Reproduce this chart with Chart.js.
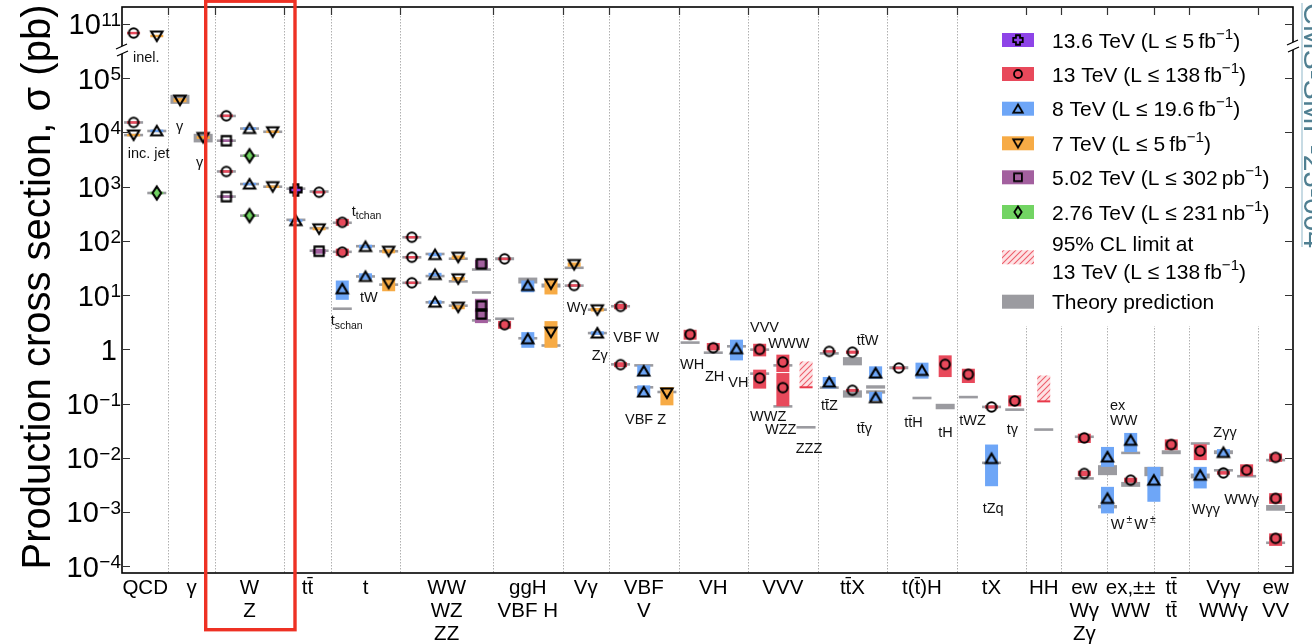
<!DOCTYPE html>
<html>
<head>
<meta charset="utf-8">
<script src="https://cdn.jsdelivr.net/npm/chart.js@4.4.1/dist/chart.umd.min.js"></script>
<style>
  html, body { margin: 0; padding: 0; background: #fff; }
  canvas { display: block; }
</style>
</head>
<body>
<canvas id="c" width="1312" height="644"></canvas>
<script>
const FONT = '"Liberation Sans", Arial, Helvetica, sans-serif';

// ---- process categories along the x axis (label lines, width in columns) ----
const categories = [
  ['QCD'], ['γ'], ['W', 'Z'], ['tt\u0304'], ['t'], ['WW', 'WZ', 'ZZ'], ['ggH', 'VBF H'],
  ['Vγ'], ['VBF', 'V'], ['VH'], ['VVV'], ['tt\u0304X'], ['t(t\u0304)H'], ['tX'], ['HH'],
  ['ew', 'Wγ', 'Zγ'], ['ex,±±', 'WW'], ['tt\u0304', 'tt\u0304'], ['Vγγ', 'WWγ'], ['ew', 'VV']
];
const categoryWidths = [2, 2, 3, 2, 3, 4, 3, 2, 3, 3, 3, 3, 3, 3, 1.5, 2, 2, 1.5, 3, 1.5];

// ---- y axis: decades, with a break that maps 10^11 onto the 10^6 slot ----
const yTickValues = [1e11, 1e5, 1e4, 1e3, 1e2, 1e1, 1, 1e-1, 1e-2, 1e-3, 1e-4];
const yTickLabels = [['10', '11'], ['10', '5'], ['10', '4'], ['10', '3'], ['10', '2'], ['10', '1'],
                     ['1', ''], ['10', '−1'], ['10', '−2'], ['10', '−3'], ['10', '−4']];

// ---- measurements: [column, sigma (pb), uncertainty low, uncertainty high] ----
const meas136 = [
  [7.5, 870, 840, 900]
];
const meas13 = [
  [0.5, 6.8e10, 6.6e10, 7.0e10], [0.5, 1.53e4, 1.48e4, 1.58e4],
  [4.5, 2.03e4, 1.97e4, 2.09e4], [4.5, 1.91e3, 1.85e3, 1.97e3],
  [8.5, 790, 760, 820],
  [9.5, 220, 190, 255], [9.5, 62, 53, 72],
  [12.5, 117, 112, 122], [12.5, 50, 48, 52], [12.5, 16.9, 16.2, 17.6],
  [16.5, 46.7, 44.5, 49], [16.5, 2.85, 2.4, 3.35],
  [19.5, 15.1, 14.5, 15.7],
  [21.5, 6.2, 5.5, 6.9], [21.5, 0.523, 0.47, 0.58],
  [24.5, 1.89, 1.51, 2.30], [25.5, 1.07, 0.96, 1.31],
  [27.5, 1.0, 0.743, 1.27], [27.5, 0.296, 0.189, 0.423],
  [28.5, 0.584, 0.382, 0.80], [28.5, 0.197, 0.0893, 0.366],
  [30.5, 0.919, 0.88, 0.96], [31.5, 0.89, 0.83, 0.95], [31.5, 0.176, 0.165, 0.187],
  [33.5, 0.453, 0.43, 0.48], [35.5, 0.53, 0.309, 0.776],
  [36.5, 0.347, 0.24, 0.44], [37.5, 0.0867, 0.081, 0.093], [38.5, 0.112, 0.089, 0.142],
  [41.5, 0.0233, 0.0188, 0.0279], [41.5, 0.00515, 0.0046, 0.0058],
  [43.5, 0.00388, 0.0035, 0.0043],
  [45.25, 0.0176, 0.0139, 0.0219],
  [46.5, 0.0134, 0.00909, 0.0178], [47.5, 0.00528, 0.0049, 0.0057], [48.5, 0.00593, 0.00459, 0.0076],
  [49.75, 0.0102, 0.00846, 0.012], [49.75, 0.00179, 0.00142, 0.00223], [49.75, 0.000328, 0.000238, 0.000405]
];
const meas8 = [
  [1.5, 1.07e4, 1.04e4, 1.1e4],
  [5.5, 1.18e4, 1.14e4, 1.22e4], [5.5, 1.12e3, 1.08e3, 1.16e3],
  [7.5, 237, 228, 246],
  [9.5, 13.1, 8.2, 18.6], [10.5, 78.7, 73, 85], [10.5, 22.1, 19.3, 25.3],
  [13.5, 56, 52, 60], [13.5, 24, 22.3, 25.8], [13.5, 7.43, 6.9, 8.0],
  [17.5, 15.1, 11.3, 18.6], [17.5, 1.57, 1.07, 2.08],
  [20.5, 2.0, 1.85, 2.15],
  [22.5, 0.399, 0.318, 0.508], [22.5, 0.164, 0.132, 0.217],
  [26.5, 1.03, 0.627, 1.51],
  [30.5, 0.25, 0.19, 0.31], [32.5, 0.366, 0.289, 0.487], [32.5, 0.129, 0.112, 0.164],
  [34.5, 0.41, 0.289, 0.569],
  [37.5, 0.00973, 0.003, 0.0176],
  [42.5, 0.0104, 0.00684, 0.0159], [42.5, 0.00179, 0.000946, 0.00292],
  [43.5, 0.0211, 0.0128, 0.0288], [44.5, 0.00388, 0.00155, 0.00682],
  [46.5, 0.0048, 0.00273, 0.00682], [47.5, 0.01256, 0.0105, 0.0145]
];
const meas7 = [
  [1.5, 6.0e10, 5.8e10, 6.2e10], [0.5, 8.95e3, 8.6e3, 9.3e3],
  [2.5, 3.94e4, 3.6e4, 4.3e4], [3.5, 8.09e3, 7.6e3, 8.6e3],
  [6.5, 1.03e4, 9.9e3, 1.07e4], [6.5, 1.0e3, 960, 1040],
  [8.5, 167, 157, 178],
  [11.5, 64.5, 59, 70], [11.5, 16.6, 11.8, 20.3],
  [14.5, 50, 46, 54], [14.5, 20, 18.5, 21.6], [14.5, 6.0, 5.5, 6.5],
  [18.5, 16.2, 10.3, 20], [18.5, 2.08, 1.07, 3.32],
  [19.5, 36.7, 33.5, 40], [20.5, 5.38, 5.0, 5.8],
  [23.5, 0.157, 0.093, 0.202]
];
const meas502 = [
  [4.5, 7.03e3, 6.8e3, 7.3e3], [4.5, 655, 630, 680],
  [8.5, 64.5, 58, 71],
  [15.5, 37.8, 31, 45], [15.5, 6.32, 4.8, 8.57], [15.5, 4.5, 3.05, 5.45]
];
const meas276 = [
  [1.5, 766, 740, 790], [5.5, 3.72e3, 3.6e3, 3.85e3], [5.5, 293, 283, 303]
];

// ---- theory predictions: [column, low, high] ----
const theory136 = [[7.5, 890, 950]];
const theory13 = [
  [0.5, 1.46e4, 1.6e4], [4.5, 1.95e4, 2.08e4], [4.5, 1.85e3, 1.97e3], [8.5, 780, 850],
  [9.5, 205, 228], [9.5, 60, 66], [12.5, 112, 122], [12.5, 48, 52], [12.5, 16.2, 17.6],
  [16.5, 44, 50], [16.5, 3.55, 3.8], [19.5, 14.4, 15.6], [21.5, 6.0, 6.5], [21.5, 0.51, 0.55],
  [24.5, 1.29, 1.38], [25.5, 0.84, 0.9], [27.5, 0.96, 1.02], [27.5, 0.345, 0.37],
  [28.5, 0.49, 0.525], [28.5, 0.086, 0.092], [29.5, 0.0355, 0.0377],
  [30.5, 0.80, 0.89], [31.5, 0.508, 0.72], [31.5, 0.129, 0.176],
  [33.5, 0.43, 0.49], [35.5, 0.0787, 0.0993], [36.5, 0.127, 0.137], [37.5, 0.084, 0.09],
  [38.5, 0.075, 0.08], [39.75, 0.032, 0.0345],
  [41.5, 0.0235, 0.0255], [41.5, 0.00405, 0.0043], [43.5, 0.00292, 0.0036],
  [45.25, 0.01167, 0.0138], [46.5, 0.0178, 0.019], [47.5, 0.0057, 0.0061], [48.5, 0.00445, 0.00473],
  [49.75, 0.0088, 0.0094], [49.75, 0.00106, 0.00135], [49.75, 0.000262, 0.000282]
];
const theory8 = [
  [1.5, 1.03e4, 1.1e4], [5.5, 1.14e4, 1.22e4], [5.5, 1.08e3, 1.16e3], [7.5, 235, 255],
  [9.5, 5.45, 5.8], [10.5, 77, 83], [10.5, 21.3, 23],
  [13.5, 55, 60], [13.5, 21.5, 23.5], [13.5, 7.1, 7.7],
  [17.5, 16.4, 21.1], [17.5, 1.55, 1.66], [20.5, 1.93, 2.07],
  [22.5, 0.49, 0.525], [22.5, 0.193, 0.207], [26.5, 1.1, 1.18],
  [30.5, 0.19, 0.205], [32.5, 0.189, 0.218], [32.5, 0.153, 0.176], [34.5, 0.122, 0.132],
  [37.5, 0.0078, 0.0084], [42.5, 0.0048, 0.00733], [42.5, 0.00117, 0.00135],
  [43.5, 0.0119, 0.0128], [44.5, 0.00459, 0.00682], [46.5, 0.00417, 0.00514], [47.5, 0.0117, 0.0138]
];
const theory7 = [
  [0.5, 8.6e3, 9.3e3], [2.5, 3.37e4, 4.94e4], [3.5, 6.55e3, 9.45e3],
  [6.5, 9.9e3, 1.07e4], [6.5, 960, 1040], [8.5, 165, 180], [11.5, 62, 67], [11.5, 15, 16.3],
  [14.5, 45, 49], [14.5, 17.3, 18.7], [14.5, 6.2, 6.6], [18.5, 13.8, 16.4], [18.5, 1.14, 1.22],
  [19.5, 31, 33], [20.5, 5.2, 5.6], [23.5, 0.159, 0.169]
];
const theory502 = [
  [4.5, 6.8e3, 7.3e3], [4.5, 635, 680], [8.5, 63, 69],
  [15.5, 28.8, 30.6], [15.5, 10.8, 11.6], [15.5, 3.3, 3.55]
];
const theory276 = [[1.5, 740, 790], [5.5, 3.6e3, 3.85e3], [5.5, 283, 303]];

// ---- 95% CL upper limits at 13 TeV: [column, limit (pb)] ----
const limits13 = [[29.5, 0.2], [39.75, 0.11]];

// ---- process annotations inside the frame: text parts, column, y-axis value of baseline ----
const annotations = [
  [[['inel.']], 0.474, 1.96e5],
  [[['inc. jet']], 0.246, 3.38e3],
  [[['γ']], 2.33, 1.07e4],
  [[['γ']], 3.19, 2.34e3],
  [[['t'], ['tchan', 'sub']], 9.906, 293],
  [[['t'], ['schan', 'sub']], 9.0, 2.77],
  [[['tW']], 10.264, 7.42],
  [[['Wγ']], 19.178, 4.8],
  [[['Zγ']], 20.256, 0.627],
  [[['VBF W']], 21.188, 1.36],
  [[['VBF Z']], 21.692, 0.0417],
  [[['WH']], 24.064, 0.428],
  [[['ZH']], 25.142, 0.261],
  [[['VH']], 26.147, 0.2],
  [[['VVV']], 27.083, 2.08],
  [[['WWW']], 27.872, 1.04],
  [[['WWZ']], 27.083, 0.0479],
  [[['WZZ']], 27.73, 0.0273],
  [[['ZZZ']], 29.054, 0.0123],
  [[['tt\u0304Z']], 30.145, 0.0754],
  [[['tt\u0304W']], 31.685, 1.185],
  [[['tt\u0304γ']], 31.685, 0.0284],
  [[['tt\u0304H']], 33.737, 0.0367],
  [[['tH']], 35.204, 0.0243],
  [[['tWZ']], 36.109, 0.0399],
  [[['tZq']], 37.118, 0.000958],
  [[['tγ']], 38.153, 0.0273],
  [[['ex']], 42.608, 0.0754],
  [[['WW']], 42.608, 0.0399],
  [[['W'], ['\u2009±\u2009', 'sup'], ['W'], ['\u2009±', 'sup']], 42.638, 0.000486],
  [[['Zγγ']], 47.063, 0.024],
  [[['Wγγ']], 46.131, 0.000919],
  [[['WWγ']], 47.537, 0.0014]
];

// ---------------------------------------------------------------------------
const X_MAX = categoryWidths.reduce((a, b) => a + b, 0);
const separators = [];
categoryWidths.reduce((acc, w, i) => { const e = acc + w; if (i < categoryWidths.length - 1) separators.push(e); return e; }, 0);
const categoryCenters = [];
categoryWidths.reduce((acc, w) => { categoryCenters.push(acc + w / 2); return acc + w; }, 0);

const BREAK_FROM = 1e7, BREAK_SHIFT = 1e5;
const axisValue = v => (v >= BREAK_FROM ? v / BREAK_SHIFT : v);
const Y_MIN = Math.pow(10, -4.123), Y_MAX = Math.pow(10, 6.313);

const THEORY_COLOR = '#9b9ba0';
const THEORY_W = 19, BAND_W = 13, LIMIT_SPAN = 3;

function markerCanvas(shape, fill, k) {
  const S = 20, c = document.createElement('canvas');
  c.width = S; c.height = S;
  const g = c.getContext('2d'), m = S / 2;
  g.lineWidth = 2.1 * Math.max(k, 0.8); g.strokeStyle = '#000'; g.lineJoin = 'miter';
  g.beginPath();
  if (shape === 'circle') g.arc(m, m, 4.7 * k, 0, Math.PI * 2);
  else if (shape === 'up') { g.moveTo(m, m - 5 * k); g.lineTo(m + 5.6 * k, m + 4.5 * k); g.lineTo(m - 5.6 * k, m + 4.5 * k); g.closePath(); }
  else if (shape === 'down') { g.moveTo(m, m + 5 * k); g.lineTo(m + 5.6 * k, m - 4.5 * k); g.lineTo(m - 5.6 * k, m - 4.5 * k); g.closePath(); }
  else if (shape === 'square') g.rect(m - 4.6 * k, m - 4.6 * k, 9.2 * k, 9.2 * k);
  else if (shape === 'diamond') { g.moveTo(m, m - 6.5 * k); g.lineTo(m + 4.3 * k, m); g.lineTo(m, m + 6.5 * k); g.lineTo(m - 4.3 * k, m); g.closePath(); }
  else if (shape === 'plus') {
    const a = 2.4 * k, b = 5.6 * k;
    g.moveTo(m - a, m - b); g.lineTo(m + a, m - b); g.lineTo(m + a, m - a); g.lineTo(m + b, m - a);
    g.lineTo(m + b, m + a); g.lineTo(m + a, m + a); g.lineTo(m + a, m + b); g.lineTo(m - a, m + b);
    g.lineTo(m - a, m + a); g.lineTo(m - b, m + a); g.lineTo(m - b, m - a); g.lineTo(m - a, m - a); g.closePath();
  }
  if (fill) { g.fillStyle = fill; g.fill(); }
  g.stroke();
  return c;
}

const series = [
  { label: [['13.6 TeV (L ≤ 5\u2009fb'], ['−1', 'sup'], [')']], meas: meas136, theory: theory136, color: '#8e44e8', shape: 'plus', face: '#8e44e8' },
  { label: [['13 TeV (L ≤ 138\u2009fb'], ['−1', 'sup'], [')']], meas: meas13, theory: theory13, color: '#e8495b', shape: 'circle', face: null },
  { label: [['8 TeV (L ≤ 19.6\u2009fb'], ['−1', 'sup'], [')']], meas: meas8, theory: theory8, color: '#6ea6f7', shape: 'up', face: null },
  { label: [['7 TeV (L ≤ 5\u2009fb'], ['−1', 'sup'], [')']], meas: meas7, theory: theory7, color: '#f7ab45', shape: 'down', face: null },
  { label: [['5.02 TeV (L ≤ 302\u2009pb'], ['−1', 'sup'], [')']], meas: meas502, theory: theory502, color: '#a3609f', shape: 'square', face: null },
  { label: [['2.76 TeV (L ≤ 231\u2009nb'], ['−1', 'sup'], [')']], meas: meas276, theory: theory276, color: '#72d463', shape: 'diamond', face: '#72d463' }
];
series.forEach(s => {
  s.img = markerCanvas(s.shape, s.face, 1);
  s.legendImg = markerCanvas(s.shape, s.face, 0.85);
});

function hatchPattern(ctx) {
  const t = document.createElement('canvas');
  t.width = 6; t.height = 6;
  const g = t.getContext('2d');
  g.fillStyle = 'rgba(250,190,196,0.45)';
  g.fillRect(0, 0, 6, 6);
  g.strokeStyle = 'rgba(234,70,86,0.85)';
  g.lineWidth = 1.1;
  g.beginPath();
  g.moveTo(-1, 7); g.lineTo(7, -1);
  g.moveTo(-1, 1); g.lineTo(1, -1);
  g.moveTo(5, 7); g.lineTo(7, 5);
  g.stroke();
  return ctx.createPattern(t, 'repeat');
}

function hbox(ctx, cx, yTop, yBot, w, minH) {
  let top = yTop, h = yBot - yTop;
  if (h < minH) { top = (yTop + yBot) / 2 - minH / 2; h = minH; }
  ctx.fillRect(cx - w / 2, top, w, h);
}

function drawRich(ctx, parts, x, y, size, align, color) {
  const sizes = parts.map(p => (p[1] ? size * 0.72 : size));
  const widths = parts.map((p, i) => { ctx.font = sizes[i] + 'px ' + FONT; return ctx.measureText(p[0]).width; });
  const total = widths.reduce((a, b) => a + b, 0);
  let cx = align === 'center' ? x - total / 2 : align === 'right' ? x - total : x;
  ctx.textAlign = 'left';
  ctx.textBaseline = 'alphabetic';
  ctx.fillStyle = color || '#000';
  parts.forEach((p, i) => {
    ctx.font = sizes[i] + 'px ' + FONT;
    const dy = p[1] === 'sup' ? -size * 0.42 : p[1] === 'sub' ? size * 0.26 : 0;
    ctx.fillText(p[0], cx, y + dy);
    cx += widths[i];
  });
}

const underlay = {
  id: 'underlay',
  beforeDatasetsDraw(chart) {
    const { ctx, chartArea: a, scales: { x, y } } = chart;
    const px = c => x.getPixelForValue(c);
    const py = v => y.getPixelForValue(axisValue(v));
    ctx.save();
    // category separators
    ctx.strokeStyle = 'rgba(150,150,150,0.75)';
    ctx.lineWidth = 1;
    ctx.setLineDash([1.5, 1.5]);
    separators.forEach(s => {
      const X = Math.round(px(s)) + 0.5;
      ctx.beginPath(); ctx.moveTo(X, a.top); ctx.lineTo(X, a.bottom); ctx.stroke();
    });
    ctx.setLineDash([]);
    // theory predictions
    ctx.fillStyle = THEORY_COLOR;
    series.forEach(s => s.theory.forEach(([c, lo, hi]) => hbox(ctx, px(c), py(hi), py(lo), THEORY_W, 2.6)));
    // measurement uncertainty boxes
    series.forEach(s => {
      ctx.fillStyle = s.color;
      s.meas.forEach(([c, v, lo, hi]) => hbox(ctx, px(c), py(hi), py(lo), BAND_W, 2.5));
    });
    // upper limits
    const pat = hatchPattern(ctx);
    limits13.forEach(([c, lim]) => {
      const X = px(c), top = py(lim * LIMIT_SPAN), bot = py(lim);
      ctx.fillStyle = pat;
      ctx.fillRect(X - BAND_W / 2, top, BAND_W, bot - top);
      ctx.strokeStyle = '#e8394a'; ctx.lineWidth = 2;
      ctx.beginPath(); ctx.moveTo(X - BAND_W / 2, bot); ctx.lineTo(X + BAND_W / 2, bot); ctx.stroke();
    });
    ctx.restore();
  }
};

const overlay = {
  id: 'overlay',
  afterDraw(chart) {
    const { ctx, chartArea: a, scales: { x, y } } = chart;
    const px = c => x.getPixelForValue(c);
    const pyAxis = v => y.getPixelForValue(v);
    ctx.save();

    // legend
    const L0 = 990;
    ctx.fillStyle = '#fff';
    ctx.fillRect(L0, a.top + 2, a.right - L0 - 2, 317);
    const patchX = 1002, patchW = 32, patchH = 14, textX = 1052, fs = 21;
    const rows = [40, 74, 108.7, 143.3, 177.3, 212];
    series.forEach((s, i) => {
      const cy = rows[i];
      ctx.fillStyle = s.color;
      ctx.fillRect(patchX, cy - patchH / 2, patchW, patchH);
      ctx.drawImage(s.legendImg, patchX + patchW / 2 - 10, cy - 10);
      drawRich(ctx, s.label, textX, cy + 7.5, fs, 'left');
    });
    // limit entry
    ctx.fillStyle = hatchPattern(ctx);
    ctx.fillRect(patchX, 257.3 - patchH / 2, patchW, patchH);
    drawRich(ctx, [['95% CL limit at']], textX, 243.3 + 7.5, fs, 'left');
    drawRich(ctx, [['13 TeV (L ≤ 138\u2009fb'], ['−1', 'sup'], [')']], textX, 271.7 + 7.5, fs, 'left');
    // theory entry
    ctx.fillStyle = THEORY_COLOR;
    ctx.fillRect(patchX, 301.7 - patchH / 2, patchW, patchH);
    drawRich(ctx, [['Theory prediction']], textX, 301.7 + 7.5, fs, 'left');

    // frame
    ctx.strokeStyle = '#000';
    ctx.lineWidth = 1.6;
    ctx.strokeRect(a.left, a.top, a.right - a.left, a.bottom - a.top);

    // y ticks both sides, x ticks on top at separators
    ctx.lineWidth = 1.2;
    ctx.strokeStyle = '#333';
    yTickValues.forEach(v => {
      const Y = Math.round(pyAxis(axisValue(v))) + 0.5;
      ctx.beginPath();
      ctx.moveTo(a.left, Y); ctx.lineTo(a.left + 8, Y);
      ctx.moveTo(a.right, Y); ctx.lineTo(a.right - 8, Y);
      ctx.stroke();
    });
    separators.forEach(s => {
      const X = Math.round(px(s)) + 0.5;
      ctx.beginPath(); ctx.moveTo(X, a.top); ctx.lineTo(X, a.top + 8); ctx.stroke();
    });

    // axis break marks
    const brk = (X, Y) => {
      ctx.fillStyle = '#fff';
      ctx.fillRect(X - 2, Y - 4, 4, 8);
      ctx.strokeStyle = '#000'; ctx.lineWidth = 1.3;
      ctx.beginPath();
      ctx.moveTo(X - 6, Y - 1); ctx.lineTo(X + 5, Y - 6);
      ctx.moveTo(X - 5, Y + 6); ctx.lineTo(X + 6, Y + 1);
      ctx.stroke();
    };
    brk(a.left, 50);
    brk(a.right, 46);

    // y tick labels
    ctx.fillStyle = '#000';
    yTickValues.forEach((v, i) => {
      const Y = pyAxis(axisValue(v));
      const [base, sup] = yTickLabels[i];
      const right = 121;
      ctx.textBaseline = 'alphabetic';
      ctx.textAlign = 'right';
      let supW = 0;
      if (sup) {
        ctx.font = '19px ' + FONT;
        supW = ctx.measureText(sup).width;
        ctx.fillText(sup, right, Y + 2);
      }
      ctx.font = '29px ' + FONT;
      ctx.fillText(base, sup ? right - supW - 0.5 : right - 4, Y + 10.4);
    });

    // y axis title
    ctx.save();
    ctx.translate(50, 287);
    ctx.rotate(-Math.PI / 2);
    ctx.font = '40px ' + FONT;
    ctx.textAlign = 'center';
    ctx.textBaseline = 'alphabetic';
    ctx.fillText('Production cross section, σ (pb)', 0, 0);
    ctx.restore();

    // category labels
    categories.forEach((lines, i) => {
      lines.forEach((t, j) => drawRich(ctx, [[t]], px(categoryCenters[i]), 594 + j * 23.2, 20.5, 'center'));
    });

    // annotations inside the frame
    annotations.forEach(([parts, c, v]) => drawRich(ctx, parts, px(c), pyAxis(v), 14.5, 'left', '#111'));

    // document reference along the right edge
    ctx.strokeStyle = '#b5cfdb';
    ctx.lineWidth = 1.5;
    ctx.beginPath(); ctx.moveTo(1302, 3); ctx.lineTo(1302, 247); ctx.stroke();
    ctx.save();
    ctx.translate(1304, 3);
    ctx.rotate(Math.PI / 2);
    ctx.font = '30px ' + FONT;
    ctx.fillStyle = '#4f7f91';
    ctx.textAlign = 'left';
    ctx.textBaseline = 'alphabetic';
    ctx.fillText('CMS-SMP-23-004', 0, 0);
    ctx.restore();

    // highlight box around the W/Z column
    ctx.strokeStyle = '#ee3124';
    ctx.lineWidth = 3.4;
    ctx.strokeRect(205.7, 1.2, 89.3, 628.5);

    ctx.restore();
  }
};

new Chart(document.getElementById('c'), {
  type: 'scatter',
  data: {
    datasets: series.map(s => ({
      label: s.label.map(p => p[0]).join(''),
      data: s.meas.map(m => ({ x: m[0], y: axisValue(m[1]) })),
      pointStyle: s.img,
      pointRadius: 6,
      pointHoverRadius: 6,
      showLine: false
    }))
  },
  options: {
    responsive: false,
    animation: false,
    devicePixelRatio: 1,
    events: [],
    layout: { padding: { left: 122, right: 19, top: 6, bottom: 71 } },
    scales: {
      x: { type: 'linear', min: 0, max: X_MAX, display: false, bounds: 'data' },
      y: { type: 'logarithmic', min: Y_MIN, max: Y_MAX, display: false, bounds: 'data' }
    },
    plugins: { legend: { display: false }, tooltip: { enabled: false } }
  },
  plugins: [underlay, overlay]
});
</script>
</body>
</html>
